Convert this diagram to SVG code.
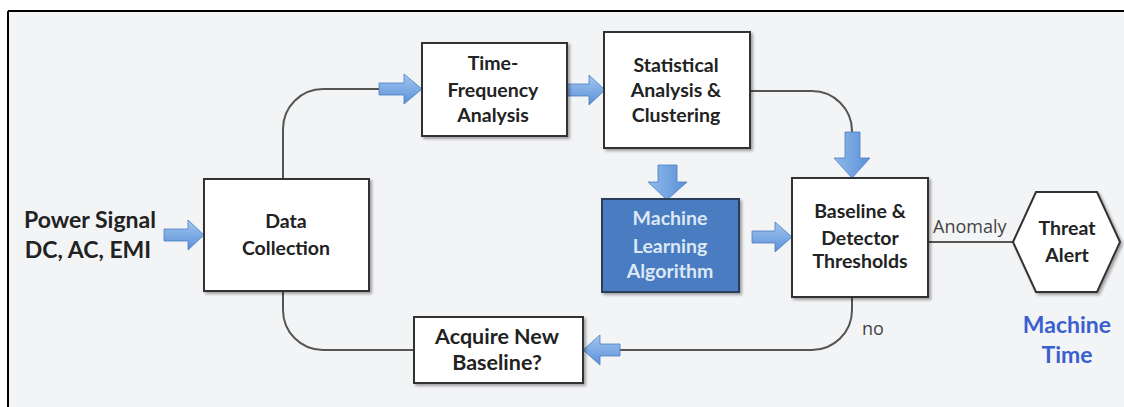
<svg xmlns="http://www.w3.org/2000/svg" width="1124" height="407" viewBox="0 0 1124 407">
<defs>
<linearGradient id="ag" x1="0" y1="0" x2="0" y2="1">
<stop offset="0" stop-color="#a3c7f0"/>
<stop offset="1" stop-color="#5a90d8"/>
</linearGradient>
<linearGradient id="agv" x1="0" y1="0" x2="1" y2="0">
<stop offset="0" stop-color="#8fbaea"/>
<stop offset="1" stop-color="#5a90d8"/>
</linearGradient>
<filter id="sh" x="-10%" y="-10%" width="130%" height="130%">
<feGaussianBlur in="SourceAlpha" stdDeviation="1.5"/>
<feOffset dx="1.5" dy="2" result="o"/>
<feComponentTransfer><feFuncA type="linear" slope="0.35"/></feComponentTransfer>
<feMerge><feMergeNode/><feMergeNode in="SourceGraphic"/></feMerge>
</filter>
</defs>
<style>
.box{fill:#ffffff;stroke:#333333;stroke-width:2;filter:url(#sh)}
.ml{fill:#4a7cc0;stroke:#2b3e5a;stroke-width:2;filter:url(#sh)}
.t{font-family:Lato,"Open Sans",sans-serif;font-weight:bold;font-size:19.5px;fill:#222222;text-anchor:middle}
.tw{fill:#dde8f6}
.big{font-size:23px}
.acq{font-size:21.5px}
.lbl{font-family:"Open Sans",sans-serif;font-size:18px;fill:#444444}
.blue{fill:#3a5fd0;font-size:23px}
.con{fill:none;stroke:#555555;stroke-width:2}
.arr{fill:url(#ag);stroke:#4a7fc0;stroke-width:0.8}
.arrv{fill:url(#agv);stroke:#4a7fc0;stroke-width:0.8}
</style>
<rect x="0" y="0" width="1124" height="407" fill="#ffffff"/>
<rect x="8" y="11" width="1116" height="396" fill="#f3f4f6"/>
<line x1="8" y1="11" x2="1124" y2="11" stroke="#000" stroke-width="2"/>
<line x1="8" y1="11" x2="8" y2="407" stroke="#000" stroke-width="2"/>

<g id="connectors">
<path class="con" d="M283,179 V129 A40,40 0 0 1 323,89 H382"/>
<path class="con" d="M283,291 V310 A40,40 0 0 0 323,350 H414"/>
<path class="con" d="M750,91 H812 A40,40 0 0 1 852,131 V135"/>
<path class="con" d="M852,297 V310 A40,40 0 0 1 812,350 H615"/>
<path class="con" d="M928,242 H1013"/>
<polygon class="arr" points="164,229 188,229 188,220 204,235 188,250 188,241 164,241"/>
<polygon class="arr" points="379,83 404,83 404,74 422,89 404,104 404,95 379,95"/>
<polygon class="arr" points="566,84 589,84 589,75 605,90 589,105 589,96 566,96"/>
<polygon class="arr" points="752,231 775,231 775,222 792,237 775,252 775,243 752,243"/>
<polygon class="arr" points="620,344 600,344 600,335 583,350 600,365 600,356 620,356"/>
<polygon class="arrv" points="658,165 677,165 677,182 687,182 667,200 648,182 658,182"/>
<polygon class="arrv" points="845,132 860,132 860,158 870,158 852,178 834,158 845,158"/>
<text class="lbl" x="933" y="233">Anomaly</text>
<text class="lbl" x="873" y="335" text-anchor="middle">no</text>
</g>

<g id="power-signal">
<text class="t big" x="90" y="228">Power Signal</text>
<text class="t big" x="88" y="258">DC, AC, EMI</text>
</g>

<g id="data-collection">
<rect class="box" x="204" y="179" width="165" height="112"/>
<text class="t" x="286" y="228">Data</text>
<text class="t" x="286" y="255">Collection</text>
</g>

<g id="time-frequency">
<rect class="box" x="422" y="43" width="145" height="93"/>
<text class="t" x="493" y="70">Time-</text>
<text class="t" x="493" y="97">Frequency</text>
<text class="t" x="493" y="122">Analysis</text>
</g>

<g id="statistical">
<rect class="box" x="604" y="32" width="146" height="116"/>
<text class="t" x="676" y="72">Statistical</text>
<text class="t" x="676" y="97">Analysis &amp;</text>
<text class="t" x="676" y="122">Clustering</text>
</g>

<g id="machine-learning">
<rect class="ml" x="602" y="199" width="137" height="93"/>
<text class="t tw" x="670" y="225">Machine</text>
<text class="t tw" x="670" y="253">Learning</text>
<text class="t tw" x="670" y="278">Algorithm</text>
</g>

<g id="baseline">
<rect class="box" x="792" y="178" width="136" height="119"/>
<text class="t" x="860" y="218">Baseline &amp;</text>
<text class="t" x="860" y="245">Detector</text>
<text class="t" x="860" y="268">Thresholds</text>
</g>

<g id="acquire">
<rect class="box" x="414" y="317" width="169" height="66"/>
<text class="t acq" x="497" y="344">Acquire New</text>
<text class="t acq" x="497" y="370">Baseline?</text>
</g>

<g id="threat-alert">
<polygon class="box" points="1013,242 1036,192 1097,192 1120,242 1097,292 1036,292"/>
<text class="t" x="1067" y="235">Threat</text>
<text class="t" x="1067" y="262">Alert</text>
</g>

<g id="machine-time">
<text class="t blue" x="1067" y="333">Machine</text>
<text class="t blue" x="1067" y="363">Time</text>
</g>
</svg>
